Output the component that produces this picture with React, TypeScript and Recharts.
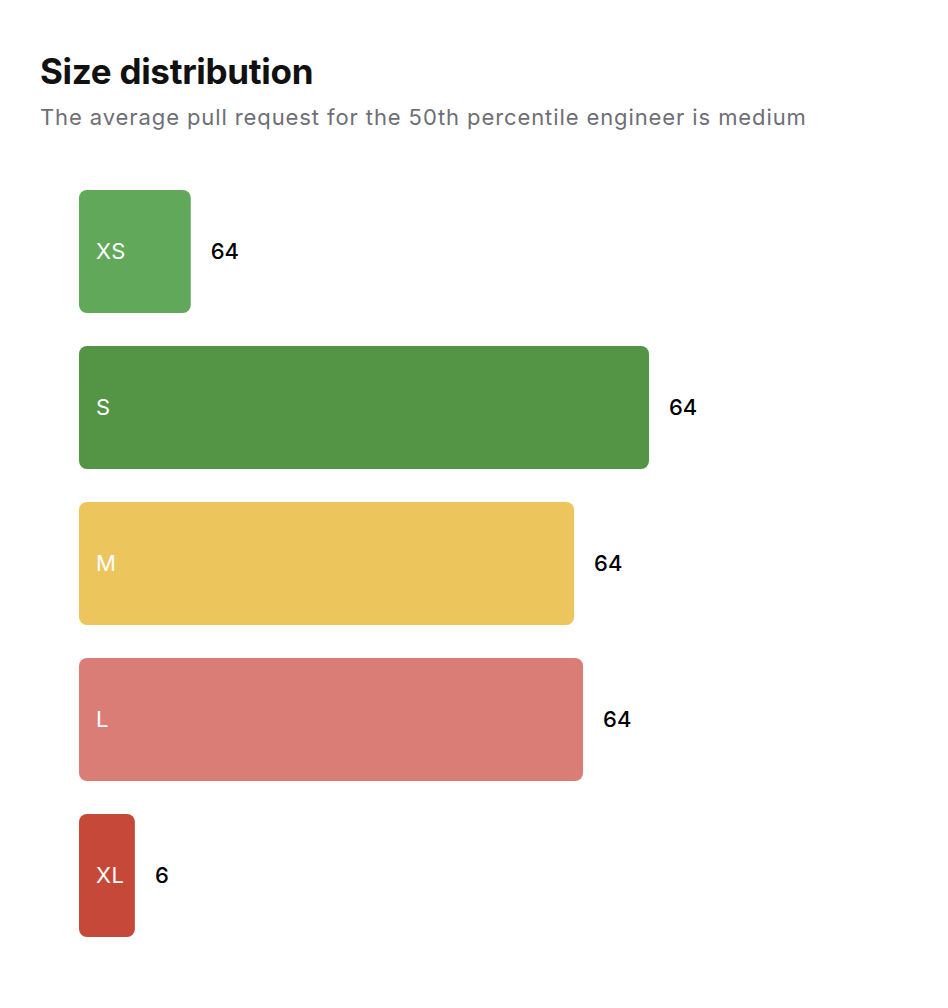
import React from "react";
import { BarChart, Bar, XAxis, YAxis, Cell, LabelList } from "recharts";

const categories = ["XS", "S", "M", "L", "XL"];
const values = [10, 51, 44.3, 45.1, 5];
const valueLabels = ["64", "64", "64", "64", "6"];
const colors = ["#61A85A", "#549445", "#ECC55D", "#DB7D77", "#C54838"];

const data = categories.map((name, i) => ({
  name,
  value: values[i],
  label: valueLabels[i],
}));

const FONT = "Inter, 'Helvetica Neue', Helvetica, Arial, sans-serif";

export default function App() {
  return (
    <div style={{ position: "relative", width: 932, height: 990, fontFamily: FONT }}>
      <div
        style={{
          position: "absolute",
          left: 32,
          top: 42,
          fontSize: 35,
          fontWeight: 700,
          color: "#111111",
          lineHeight: "42px",
          letterSpacing: -0.3,
          whiteSpace: "nowrap",
        }}
      >
        Size distribution
      </div>
      <div
        style={{
          position: "absolute",
          left: 32,
          top: 94,
          fontSize: 22,
          color: "#6E6E76",
          lineHeight: "30px",
          letterSpacing: 0.9,
          whiteSpace: "nowrap",
        }}
      >
        The average pull request for the 50th percentile engineer is medium
      </div>
      <div style={{ position: "absolute", left: 0, top: 154.5 }}>
        <BarChart
          width={900}
          height={800}
          layout="vertical"
          data={data}
          margin={{ top: 10, right: 259, bottom: 10, left: 71 }}
        >
          <XAxis type="number" domain={[0, 51]} hide />
          <YAxis type="category" dataKey="name" hide />
          <Bar dataKey="value" barSize={123} radius={8} isAnimationActive={false}>
            {data.map((d, i) => (
              <Cell key={d.name} fill={colors[i]} />
            ))}
            <LabelList
              dataKey="name"
              position="insideLeft"
              offset={17}
              fill="#FFFFFF"
              style={{ fontSize: 22, fontFamily: FONT, letterSpacing: 0.5 }}
            />
            <LabelList
              dataKey="label"
              position="right"
              offset={20}
              fill="#000000"
              style={{ fontSize: 22, fontFamily: FONT, fontWeight: 500 }}
            />
          </Bar>
        </BarChart>
      </div>
    </div>
  );
}
